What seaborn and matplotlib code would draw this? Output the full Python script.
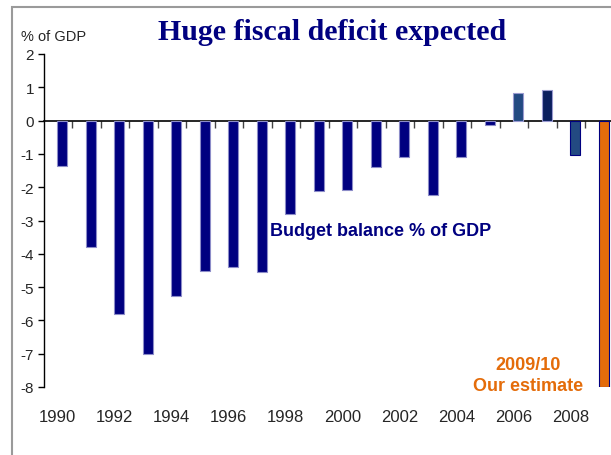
import numpy as np
import matplotlib
matplotlib.use("Agg")
import matplotlib.pyplot as plt
import seaborn as sns
from matplotlib.patches import Rectangle

# Budget balance, % of GDP
years = list(range(1990, 2010))
balance = [-1.35, -3.8, -5.8, -7.0, -5.27, -4.51, -4.41, -4.54, -2.8, -2.1,
           -2.07, -1.4, -1.1, -2.22, -1.1, -0.12, 0.83, 0.91, -1.02, -8.0]
bar_colors = ['#000080'] * 16 + ['#234a82', '#0b1f5e', '#234a82', '#e46c0a']
edge_colors = ['#8c8cc8'] * 16 + ['#9a9ad0', '#9a9ad0', '#000080', '#000080']
year_labels = [str(y) if y % 2 == 0 else '' for y in years]
y_ticks = [2, 1, 0, -1, -2, -3, -4, -5, -6, -7, -8]

sns.set_style('white')
plt.rcParams['font.family'] = ['Liberation Sans', 'DejaVu Sans']

fig = plt.figure(figsize=(6.11, 4.56), dpi=100)
ax = fig.add_axes([43.6 / 611, 1 - 388 / 456, 1 - 43.6 / 611, 333 / 456])

pos = np.arange(len(years))
sns.barplot(x=pos, y=balance, hue=pos, palette=bar_colors, legend=False,
            width=0.35, ax=ax, saturation=1)
# bars sit a little right of the category centre in the original
for patch, ec in zip(ax.patches, edge_colors):
    patch.set_x(patch.get_x() + 0.15)
    patch.set_edgecolor(ec)
    patch.set_linewidth(0.8)

ax.set_ylim(-8, 2)
ax.set_xlim(-0.5, 19.41)
ax.set_yticks(y_ticks)
ax.set_yticklabels([str(t) for t in y_ticks], fontsize=11)
ax.tick_params(axis='y', direction='out', length=4, width=1, color='black', pad=3, left=True)

# year labels along the bottom, no bottom spine
ax.set_xticks(pos)
ax.set_xticklabels(year_labels, fontsize=12)
ax.tick_params(axis='x', length=0, pad=16)
for s in ['top', 'right', 'bottom']:
    ax.spines[s].set_visible(False)
ax.spines['left'].set_color('black')
ax.spines['left'].set_linewidth(1)
ax.set_xlabel('')
ax.set_ylabel('')

# zero line with category-boundary ticks
zero = ax.secondary_xaxis(0.8)
zero.set_xticks(pos[:-1] + 0.5)
zero.set_xticklabels([])
zero.tick_params(direction='in', length=5, width=1, color='#444444')
for s in zero.spines.values():
    s.set_color('black')
    s.set_linewidth(1.2)

ax.text(7.43, -3.3, 'Budget balance % of GDP', color='#000080', fontsize=13,
        fontweight='bold', ha='left', va='center')
ax.text(16.5, -7.63, '2009/10\nOur estimate', color='#e46c0a', fontsize=13,
        fontweight='bold', ha='center', va='center', linespacing=1.3)

fig.text(332 / 611, 1 - 32 / 456, 'Huge fiscal deficit expected', color='#000080',
         fontsize=21.5, fontweight='bold', family='Liberation Serif', ha='center', va='center')
fig.text(21 / 611, 1 - 37 / 456, '% of GDP', fontsize=10.5, ha='left', va='center')

fig.patches.append(Rectangle((12 / 611, -0.1), 1.2, 1.1 - 7.5 / 456, transform=fig.transFigure,
                             facecolor='none', edgecolor='#9a9a9a', linewidth=1.5))

fig.savefig('out.png', dpi=100)
